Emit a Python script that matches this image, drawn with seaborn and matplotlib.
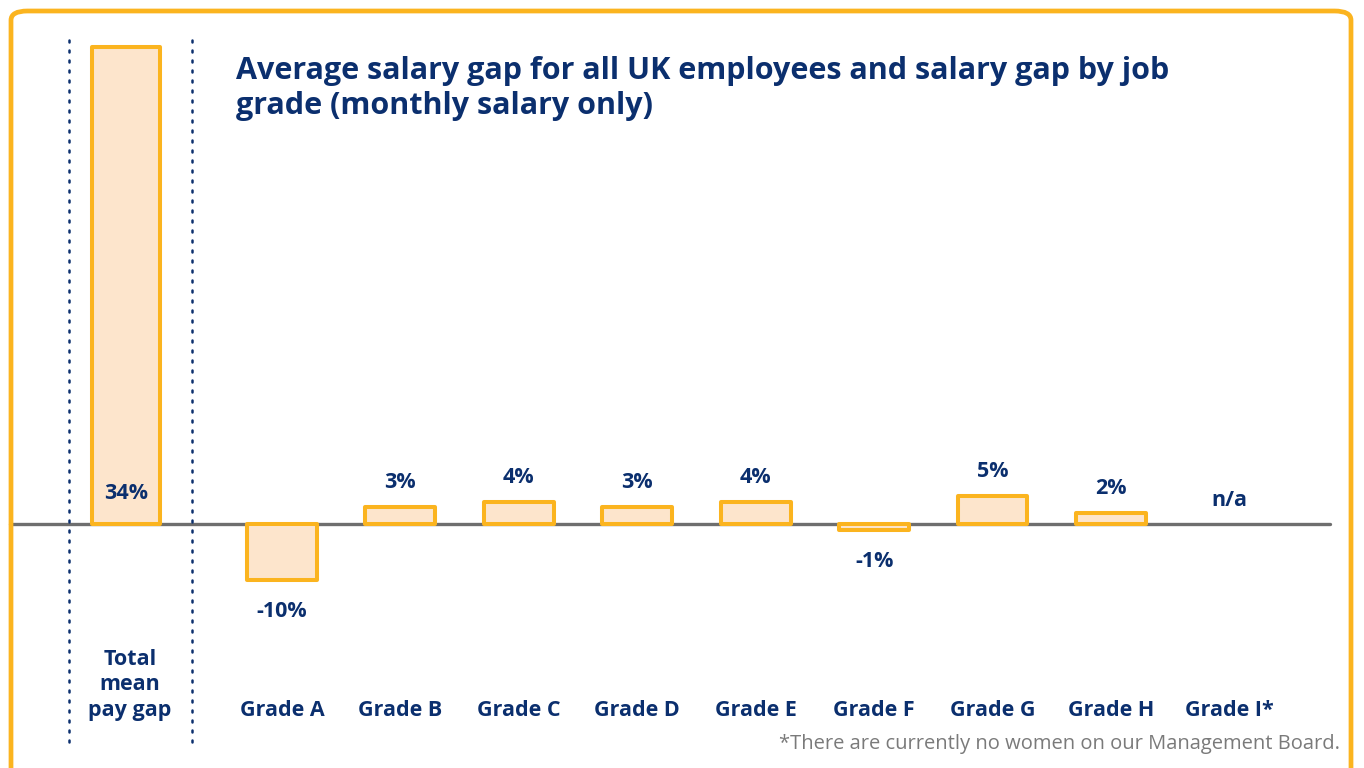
import numpy as np
import pandas as pd
import matplotlib
matplotlib.use("Agg")
import matplotlib.pyplot as plt
from matplotlib.patches import FancyBboxPatch
from matplotlib.lines import Line2D
import seaborn as sns

# ---- data ----
total_label = ["Total\nmean\npay gap"]
total_value = [34]
grades = ["Grade A", "Grade B", "Grade C", "Grade D", "Grade E",
          "Grade F", "Grade G", "Grade H", "Grade I*"]
grade_values = [-10, 3, 4, 3, 4, -1, 5, 2, np.nan]
title = "Average salary gap for all UK employees and salary gap by job\ngrade (monthly salary only)"
footnote = "*There are currently no women on our Management Board."

# ---- style ----
sns.set_theme(style="white")
plt.rcParams['font.family'] = ['Open Sans', 'DejaVu Sans']
NAVY = "#0b2f6e"
FILL = "#fde5cc"
EDGE = "#fbb41f"
GREY = "#6e6e6e"
W, H = 1364, 768

fig = plt.figure(figsize=(W / 100, H / 100), dpi=100)
fig.patch.set_facecolor("white")

def fx(px):
    return px / W

def fy(py):
    return 1 - py / H

ax_top, ax_bot = 30, 640
ax1 = fig.add_axes([fx(69), fy(ax_bot), fx(192) - fx(69), (ax_bot - ax_top) / H])
ax2 = fig.add_axes([fx(192), fy(ax_bot), fx(1330) - fx(192), (ax_bot - ax_top) / H])

df_tot = pd.DataFrame({"cat": total_label, "val": total_value})
df_gr = pd.DataFrame({"cat": grades, "val": grade_values})

sns.barplot(data=df_tot, x="cat", y="val", ax=ax1, color=FILL, saturation=1,
            edgecolor=EDGE, linewidth=2.9, width=0.553, zorder=3)
sns.barplot(data=df_gr, x="cat", y="val", order=grades, ax=ax2, color=FILL,
            saturation=1, edgecolor=EDGE, linewidth=2.9, width=0.59, zorder=3)

for ax in (ax1, ax2):
    for p in ax.patches:
        p.set_joinstyle("round")
    ax.set_axis_off()
    ax.patch.set_visible(False)

base_px = 524
ax1.set_xlim(-0.463, 0.537)
ax1.set_ylim(-(ax_bot - base_px) / 14.03, (base_px - ax_top) / 14.03)
ax2.set_xlim(-0.76, 8.85)
ax2.set_ylim(-(ax_bot - base_px) / 5.6, (base_px - ax_top) / 5.6)

# value labels
lab_kw = dict(color=NAVY, fontsize=15.5, fontweight="bold", ha="center", va="center",
              textcoords="offset points")
for i, v in enumerate(grade_values):
    if np.isnan(v):
        ax2.annotate("n/a", (i, 0), xytext=(0, 17), **lab_kw)
    elif v >= 0:
        ax2.annotate(f"{v:.0f}%", (i, v), xytext=(0, 17.5), **lab_kw)
    else:
        ax2.annotate(f"{v:.0f}%", (i, v), xytext=(0, -23), **lab_kw)
ax1.annotate(f"{total_value[0]}%", (0, 0), xytext=(0, 22), **lab_kw)

# category labels
for i, g in enumerate(grades):
    x_fig = fig.transFigure.inverted().transform(ax2.transData.transform((i, 0)))[0]
    fig.text(x_fig, fy(710), g, color=NAVY, fontsize=15.5, fontweight="bold",
             ha="center", va="center")
x_fig = fig.transFigure.inverted().transform(ax1.transData.transform((0, 0)))[0]
fig.text(x_fig + fx(4), fy(685), total_label[0], color=NAVY, fontsize=15.5,
         fontweight="bold", ha="center", va="center", linespacing=1.3)

# baseline
y0 = fig.transFigure.inverted().transform(ax2.transData.transform((0, 0)))[1]
fig.add_artist(Line2D([fx(10), fx(1330)], [y0, y0], color=GREY, lw=2.4,
                      solid_capstyle="round", zorder=-1))

# dotted separators
for xp in (69, 192):
    fig.add_artist(Line2D([fx(xp), fx(xp)], [fy(40), fy(745)], color=NAVY, lw=1.8,
                          linestyle=(0, (0.8, 3.2)), dash_capstyle="round", zorder=-1))

# title + footnote
fig.text(fx(236), fy(56), title, color=NAVY, fontsize=22, fontweight="bold",
         ha="left", va="top", linespacing=1.2)
fig.text(fx(1340), fy(744), footnote, color="#7a7a7a", fontsize=14.5,
         ha="right", va="center")

# rounded border
fig.add_artist(FancyBboxPatch((fx(11), fy(790)), fx(1351) - fx(11), fy(11) - fy(790),
                              boxstyle="round,pad=0,rounding_size=0.012",
                              transform=fig.transFigure, fill=False,
                              edgecolor=EDGE, lw=3.4, zorder=5))

fig.savefig("out.png", dpi=100)
